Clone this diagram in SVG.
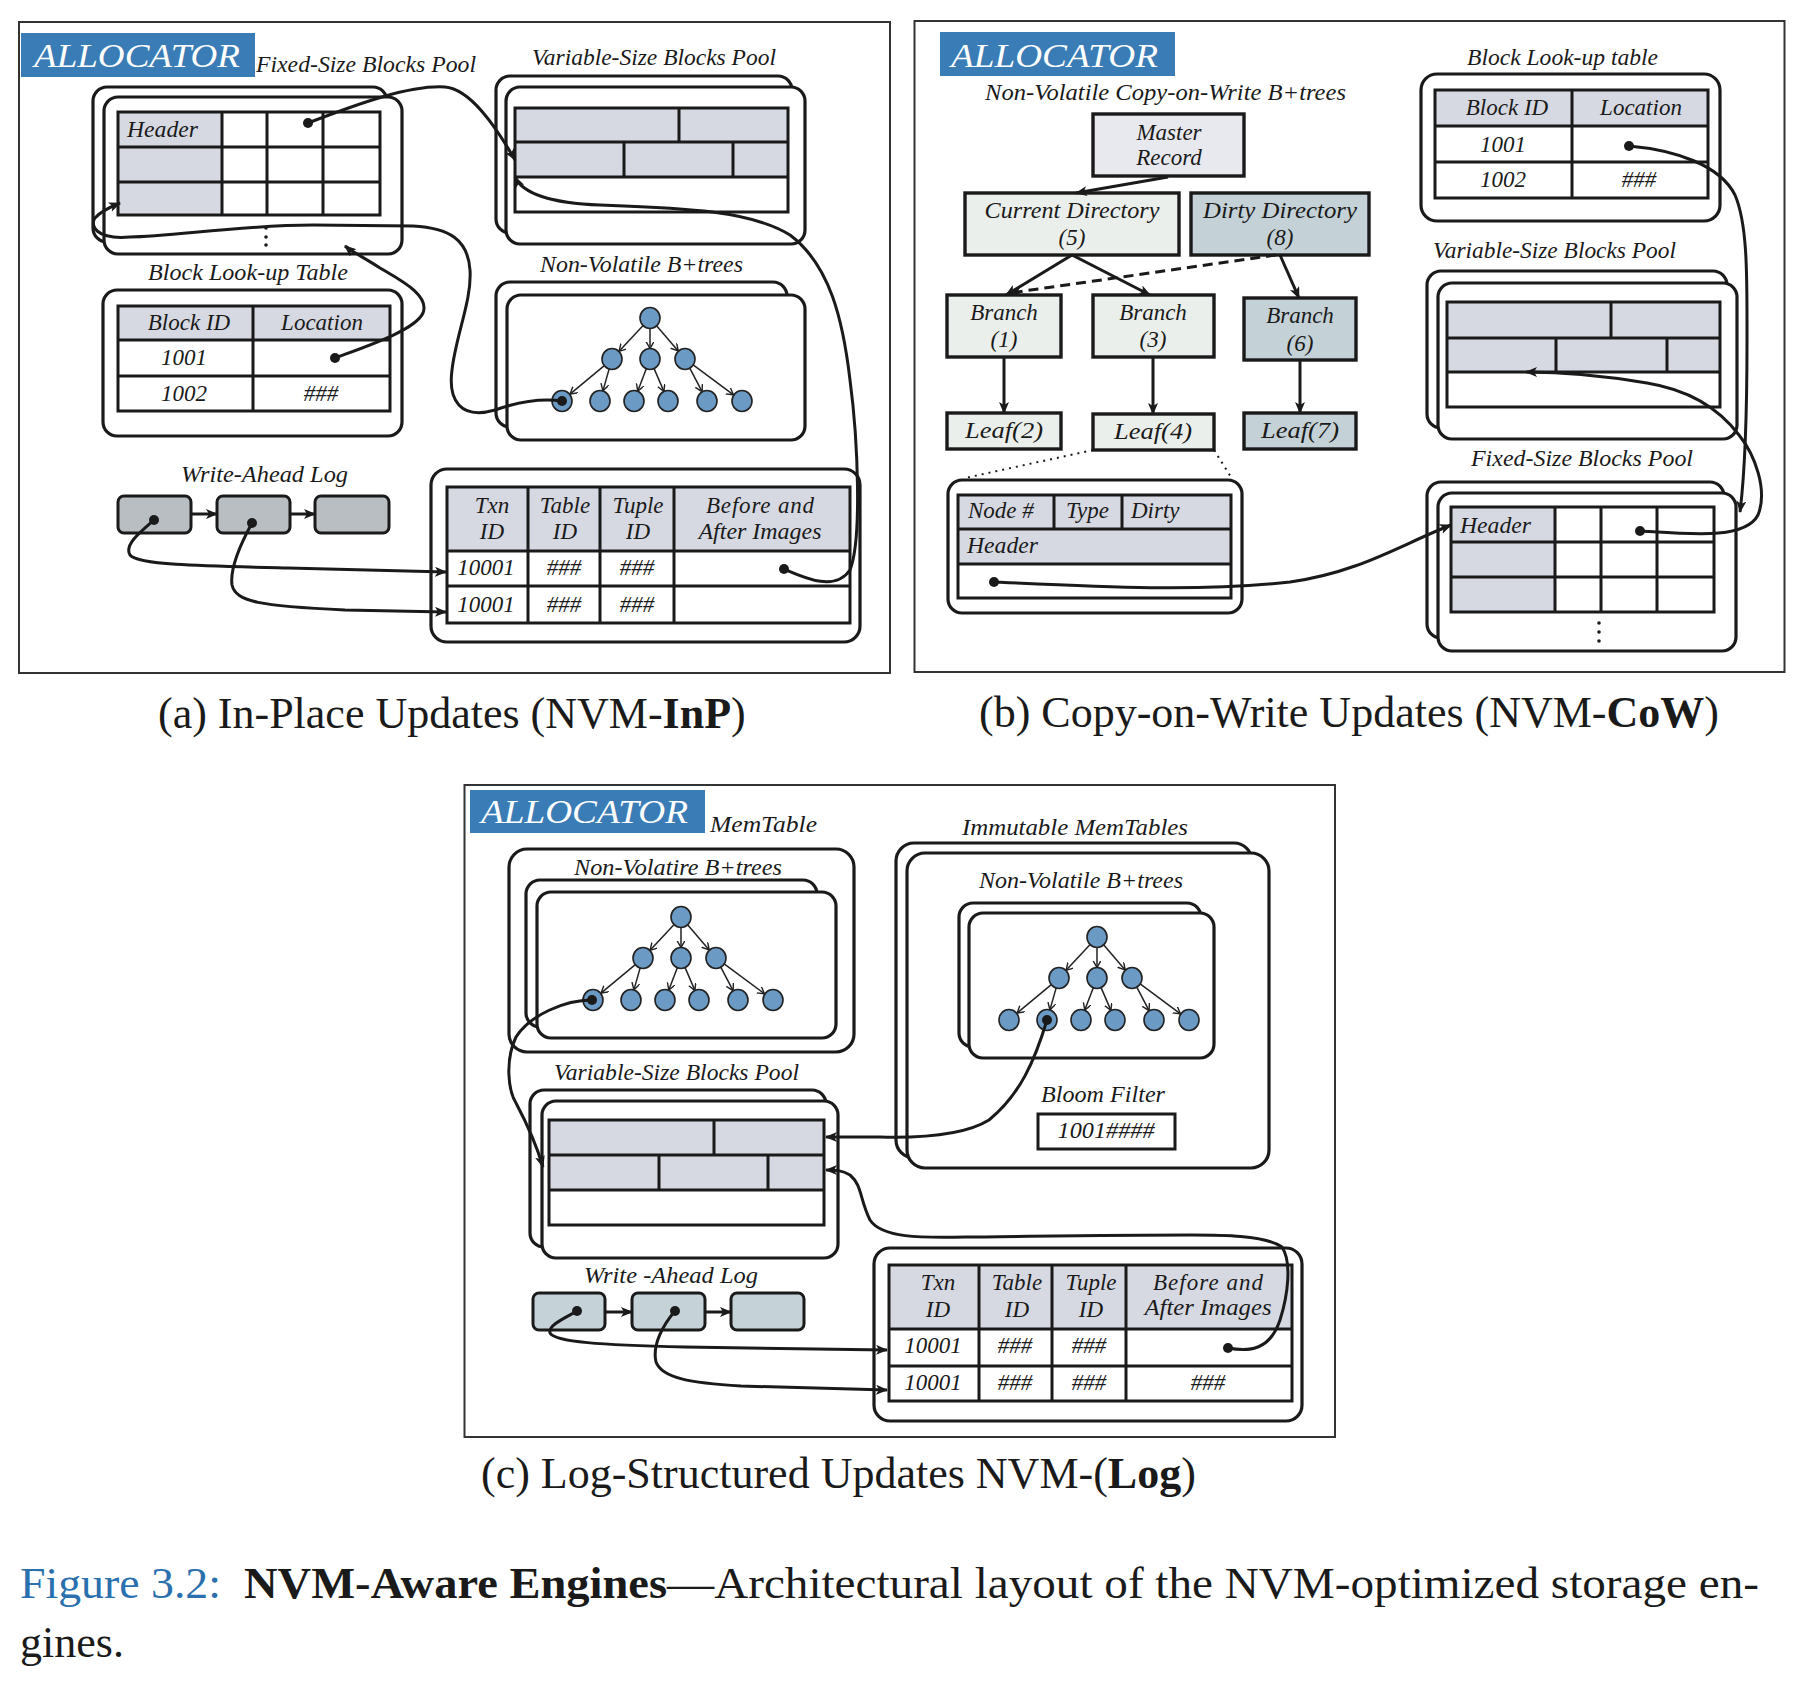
<svg xmlns="http://www.w3.org/2000/svg" width="1799" height="1683" viewBox="0 0 1799 1683">
<defs>
<style>
.frame{fill:#fff;stroke:#333;stroke-width:2}
.rb{fill:#fff;stroke:#1a1a1a;stroke-width:3.2}
.sq{stroke:#1a1a1a;stroke-width:3.4}
.grid{fill:none;stroke:#1a1a1a;stroke-width:3}
.shade{fill:#d6d9e1}
.alloc{fill:#3a7cb5}
.at{font-family:"Liberation Serif","Times New Roman",serif;font-style:italic;font-size:34px;fill:#fff}
.t{font-family:"Liberation Serif","Times New Roman",serif;font-style:italic;font-size:23px;fill:#1a1a1a}
.m{text-anchor:middle}
.cap{font-family:"Liberation Serif","Times New Roman",serif;font-size:44px;fill:#1a1a1a}
.b{font-weight:bold}
.blue{fill:#2a70ae}
.conn{fill:none;stroke:#1a1a1a;stroke-width:3}
.arr{marker-end:url(#ah)}
.dot{marker-start:url(#dt)}
.dash{stroke-dasharray:10 6}
.dotted{fill:none;stroke:#1a1a1a;stroke-width:2;stroke-dasharray:2 5}
.node{fill:#6b9ac4;stroke:#222;stroke-width:1.6}
.te{fill:none;stroke:#222;stroke-width:1.5;marker-end:url(#va)}
.wal-a{fill:#b9bec3;stroke:#1a1a1a;stroke-width:3}
.wal-c{fill:#c5d3d8;stroke:#1a1a1a;stroke-width:3}
.lt{fill:#ebefeb}
.dk{fill:#c4d1d6}
.mr{fill:#e8e9ee}
.vd{fill:#1a1a1a}
</style>
<marker id="ah" markerUnits="userSpaceOnUse" markerWidth="14" markerHeight="12" refX="11" refY="5" orient="auto"><path d="M0,0 L12,5 L0,10 L3,5 z" fill="#1a1a1a"/></marker>
<marker id="dt" markerUnits="userSpaceOnUse" markerWidth="12" markerHeight="12" refX="6" refY="6"><circle cx="6" cy="6" r="5" fill="#1a1a1a"/></marker>
<marker id="va" markerUnits="userSpaceOnUse" markerWidth="10" markerHeight="10" refX="7" refY="4" orient="auto"><path d="M0,0 L7,4 L0,8" fill="none" stroke="#222" stroke-width="1.4"/></marker>
<g id="tree">
<line class="te" x1="-7.1" y1="7.7" x2="-30.9" y2="33.3"/>
<line class="te" x1="0" y1="10.5" x2="0" y2="30.5"/>
<line class="te" x1="6.8" y1="8" x2="28.2" y2="33"/>
<line class="te" x1="-46" y1="47.8" x2="-80" y2="76.2"/>
<line class="te" x1="-40.9" y1="51.1" x2="-47.1" y2="72.9"/>
<line class="te" x1="-3.7" y1="50.8" x2="-12.3" y2="73.2"/>
<line class="te" x1="4.1" y1="50.6" x2="13.9" y2="73.4"/>
<line class="te" x1="39.9" y1="50.3" x2="52.1" y2="73.7"/>
<line class="te" x1="43.5" y1="47.2" x2="83.5" y2="76.8"/>
<ellipse class="node" cx="0" cy="0" rx="10" ry="10.5"/>
<ellipse class="node" cx="-38" cy="41" rx="10" ry="10.5"/>
<ellipse class="node" cx="0" cy="41" rx="10" ry="10.5"/>
<ellipse class="node" cx="35" cy="41" rx="10" ry="10.5"/>
<ellipse class="node" cx="-88" cy="83" rx="10" ry="10.5"/>
<ellipse class="node" cx="-50" cy="83" rx="10" ry="10.5"/>
<ellipse class="node" cx="-16" cy="83" rx="10" ry="10.5"/>
<ellipse class="node" cx="18" cy="83" rx="10" ry="10.5"/>
<ellipse class="node" cx="57" cy="83" rx="10" ry="10.5"/>
<ellipse class="node" cx="92" cy="83" rx="10" ry="10.5"/>
</g>
</defs>
<rect x="0" y="0" width="1799" height="1683" fill="#fff"/>

<!-- ===== Panel (a) ===== -->
<g id="panel-a">
<rect class="frame" x="19" y="22" width="871" height="651"/>
<g id="a-allocator"><rect class="alloc" x="21" y="33" width="234" height="44"/><text class="at" x="34" y="67" textLength="206" lengthAdjust="spacingAndGlyphs">ALLOCATOR</text></g>
<g id="a-fixed-pool">
<text class="t" x="256" y="72" textLength="220" lengthAdjust="spacingAndGlyphs">Fixed-Size Blocks Pool</text>
<rect class="rb" x="93" y="87" width="294" height="155" rx="14"/>
<rect class="rb" x="104" y="97" width="298" height="157" rx="14"/>
<rect class="shade" x="118" y="112" width="104" height="103"/>
<path class="grid" d="M118,112 H380 V215 H118 Z M118,147 H380 M118,182 H380 M222,112 V215 M267,112 V215 M323,112 V215"/>
<text class="t" x="127" y="137" textLength="71" lengthAdjust="spacingAndGlyphs">Header</text>
<circle class="vd" cx="266" cy="228" r="1.8"/><circle class="vd" cx="266" cy="237" r="1.8"/><circle class="vd" cx="266" cy="245" r="1.8"/>
</g>
<g id="a-var-pool">
<text class="t" x="532" y="65" textLength="244" lengthAdjust="spacingAndGlyphs">Variable-Size Blocks Pool</text>
<rect class="rb" x="496" y="76" width="296" height="157" rx="14"/>
<rect class="rb" x="506" y="87" width="299" height="157" rx="14"/>
<rect class="shade" x="515" y="108" width="273" height="69"/>
<path class="grid" d="M515,108 H788 V212 H515 Z M515,142 H788 M515,177 H788 M679,108 V142 M624,142 V177 M733,142 V177"/>
</g>
<g id="a-btrees">
<text class="t" x="540" y="272" textLength="203" lengthAdjust="spacingAndGlyphs">Non-Volatile B+trees</text>
<rect class="rb" x="496" y="282" width="291" height="145" rx="14"/>
<rect class="rb" x="507" y="295" width="298" height="145" rx="14"/>
<use href="#tree" transform="translate(650,318)"/>
</g>
<g id="a-lookup">
<text class="t" x="148" y="280" textLength="200" lengthAdjust="spacingAndGlyphs">Block Look-up Table</text>
<rect class="rb" x="103" y="290" width="299" height="146" rx="14"/>
<rect class="shade" x="118" y="306" width="272" height="34"/>
<path class="grid" d="M118,306 H390 V411 H118 Z M118,340 H390 M118,376 H390 M253,306 V411"/>
<text class="t m" x="189" y="330">Block ID</text>
<text class="t m" x="322" y="330">Location</text>
<text class="t m" x="184" y="365">1001</text>
<text class="t m" x="184" y="401">1002</text>
<text class="t m" x="321" y="401">###</text>
</g>
<g id="a-wal">
<text class="t" x="181" y="482" textLength="167" lengthAdjust="spacingAndGlyphs">Write-Ahead Log</text>
<rect class="wal-a" x="118" y="496" width="73" height="37" rx="6"/>
<rect class="wal-a" x="217" y="496" width="73" height="37" rx="6"/>
<rect class="wal-a" x="315" y="496" width="74" height="37" rx="6"/>
</g>
<g id="a-wal-table">
<rect class="rb" x="431" y="469" width="429" height="173" rx="16"/>
<rect class="shade" x="447" y="487" width="403" height="64"/>
<path class="grid" d="M447,487 H850 V623 H447 Z M447,551 H850 M447,586 H850 M528,487 V623 M600,487 V623 M674,487 V623"/>
<text class="t m" x="492" y="513">Txn</text><text class="t m" x="492" y="539">ID</text>
<text class="t m" x="565" y="513">Table</text><text class="t m" x="565" y="539">ID</text>
<text class="t m" x="638" y="513">Tuple</text><text class="t m" x="638" y="539">ID</text>
<text class="t m" x="760" y="513" textLength="108" lengthAdjust="spacing">Before and</text>
<text class="t m" x="760" y="539" textLength="123" lengthAdjust="spacingAndGlyphs">After Images</text>
<text class="t m" x="486" y="575">10001</text><text class="t m" x="564" y="575">###</text><text class="t m" x="637" y="575">###</text>
<text class="t m" x="486" y="612">10001</text><text class="t m" x="564" y="612">###</text><text class="t m" x="637" y="612">###</text>
</g>
<text class="cap" x="158" y="728">(a) In-Place Updates (NVM-<tspan class="b">InP</tspan>)</text>
</g>

<!-- ===== Panel (b) ===== -->
<g id="panel-b">
<rect class="frame" x="914.5" y="21" width="870" height="651"/>
<g id="b-allocator"><rect class="alloc" x="940" y="32" width="235" height="44"/><text class="at" x="951" y="67" textLength="207" lengthAdjust="spacingAndGlyphs">ALLOCATOR</text></g>
<text class="t" x="985" y="100" textLength="361" lengthAdjust="spacingAndGlyphs">Non-Volatile Copy-on-Write B+trees</text>
<g id="b-master"><rect class="mr sq" x="1093" y="114" width="151" height="62"/><text class="t m" x="1169" y="140">Master</text><text class="t m" x="1169" y="165">Record</text></g>
<g id="b-current"><rect class="lt sq" x="965" y="193" width="214" height="62"/><text class="t m" x="1072" y="218" textLength="175" lengthAdjust="spacingAndGlyphs">Current Directory</text><text class="t m" x="1072" y="245">(5)</text></g>
<g id="b-dirty"><rect class="dk sq" x="1191" y="193" width="178" height="62"/><text class="t m" x="1280" y="218" textLength="154" lengthAdjust="spacingAndGlyphs">Dirty Directory</text><text class="t m" x="1280" y="245">(8)</text></g>
<g id="b-branch1"><rect class="lt sq" x="947" y="295" width="114" height="62"/><text class="t m" x="1004" y="320">Branch</text><text class="t m" x="1004" y="347">(1)</text></g>
<g id="b-branch3"><rect class="lt sq" x="1093" y="295" width="121" height="62"/><text class="t m" x="1153" y="320">Branch</text><text class="t m" x="1153" y="347">(3)</text></g>
<g id="b-branch6"><rect class="dk sq" x="1244" y="298" width="112" height="62"/><text class="t m" x="1300" y="323">Branch</text><text class="t m" x="1300" y="351">(6)</text></g>
<g id="b-leaf2"><rect class="lt sq" x="947" y="413" width="114" height="36"/><text class="t m" x="1004" y="438" textLength="78" lengthAdjust="spacingAndGlyphs">Leaf(2)</text></g>
<g id="b-leaf4"><rect class="lt sq" x="1093" y="414" width="121" height="36"/><text class="t m" x="1153" y="439" textLength="78" lengthAdjust="spacingAndGlyphs">Leaf(4)</text></g>
<g id="b-leaf7"><rect class="dk sq" x="1244" y="413" width="112" height="36"/><text class="t m" x="1300" y="438" textLength="78" lengthAdjust="spacingAndGlyphs">Leaf(7)</text></g>
<g id="b-node">
<rect class="rb" x="948" y="480" width="294" height="133" rx="14"/>
<rect class="shade" x="958" y="495" width="273" height="69"/>
<path class="grid" d="M958,495 H1231 V598 H958 Z M958,529 H1231 M958,564 H1231 M1054,495 V529 M1122,495 V529"/>
<text class="t" x="968" y="518">Node #</text>
<text class="t" x="1066" y="518">Type</text>
<text class="t" x="1131" y="518">Dirty</text>
<text class="t" x="967" y="553" textLength="71" lengthAdjust="spacingAndGlyphs">Header</text>
</g>
<g id="b-lookup">
<text class="t" x="1467" y="65" textLength="191" lengthAdjust="spacingAndGlyphs">Block Look-up table</text>
<rect class="rb" x="1421" y="74" width="299" height="147" rx="16"/>
<rect class="shade" x="1435" y="90" width="273" height="36"/>
<path class="grid" d="M1435,90 H1708 V198 H1435 Z M1435,126 H1708 M1435,162 H1708 M1572,90 V198"/>
<text class="t m" x="1507" y="115">Block ID</text>
<text class="t m" x="1641" y="115">Location</text>
<text class="t m" x="1503" y="152">1001</text>
<text class="t m" x="1503" y="187">1002</text>
<text class="t m" x="1639" y="187">###</text>
</g>
<g id="b-var-pool">
<text class="t" x="1433" y="258" textLength="243" lengthAdjust="spacingAndGlyphs">Variable-Size Blocks Pool</text>
<rect class="rb" x="1427" y="271" width="300" height="157" rx="14"/>
<rect class="rb" x="1438" y="283" width="299" height="156" rx="14"/>
<rect class="shade" x="1447" y="302" width="273" height="70"/>
<path class="grid" d="M1447,302 H1720 V407 H1447 Z M1447,338 H1720 M1447,372 H1720 M1611,302 V338 M1556,338 V372 M1667,338 V372"/>
</g>
<g id="b-fixed-pool">
<text class="t" x="1471" y="466" textLength="222" lengthAdjust="spacingAndGlyphs">Fixed-Size Blocks Pool</text>
<rect class="rb" x="1427" y="482" width="297" height="156" rx="14"/>
<rect class="rb" x="1438" y="493" width="298" height="158" rx="14"/>
<rect class="shade" x="1451" y="507" width="104" height="105"/>
<path class="grid" d="M1451,507 H1714 V612 H1451 Z M1451,542 H1714 M1451,577 H1714 M1555,507 V612 M1601,507 V612 M1657,507 V612"/>
<text class="t" x="1460" y="533" textLength="71" lengthAdjust="spacingAndGlyphs">Header</text>
<circle class="vd" cx="1599" cy="623" r="1.8"/><circle class="vd" cx="1599" cy="632" r="1.8"/><circle class="vd" cx="1599" cy="641" r="1.8"/>
</g>
<text class="cap" x="979" y="727">(b) Copy-on-Write Updates (NVM-<tspan class="b">CoW</tspan>)</text>
</g>

<!-- ===== Panel (c) ===== -->
<g id="panel-c">
<rect class="frame" x="464.5" y="785" width="870.5" height="652"/>
<g id="c-allocator"><rect class="alloc" x="470" y="790" width="235" height="43"/><text class="at" x="481" y="823" textLength="207" lengthAdjust="spacingAndGlyphs">ALLOCATOR</text></g>
<g id="c-memtable">
<text class="t" x="710" y="832" textLength="107" lengthAdjust="spacingAndGlyphs">MemTable</text>
<rect class="rb" x="509" y="849" width="345" height="203" rx="18"/>
<text class="t" x="574" y="875" textLength="208" lengthAdjust="spacingAndGlyphs">Non-Volatire B+trees</text>
<rect class="rb" x="526" y="880" width="291" height="147" rx="14"/>
<rect class="rb" x="537" y="892" width="299" height="146" rx="14"/>
<use href="#tree" transform="translate(681,917)"/>
</g>
<g id="c-immutable">
<text class="t" x="962" y="835" textLength="226" lengthAdjust="spacingAndGlyphs">Immutable MemTables</text>
<rect class="rb" x="896" y="843" width="356" height="315" rx="18"/>
<rect class="rb" x="907" y="853" width="362" height="315" rx="18"/>
<text class="t" x="979" y="888" textLength="204" lengthAdjust="spacingAndGlyphs">Non-Volatile B+trees</text>
<rect class="rb" x="959" y="903" width="242" height="144" rx="14"/>
<rect class="rb" x="969" y="913" width="245" height="145" rx="14"/>
<use href="#tree" transform="translate(1097,937)"/>
<text class="t" x="1041" y="1102" textLength="124" lengthAdjust="spacingAndGlyphs">Bloom Filter</text>
<rect x="1038" y="1114" width="137" height="35" fill="#fff" stroke="#1a1a1a" stroke-width="3"/>
<text class="t m" x="1106" y="1138" textLength="97" lengthAdjust="spacingAndGlyphs">1001####</text>
</g>
<g id="c-var-pool">
<text class="t" x="554" y="1080" textLength="245" lengthAdjust="spacingAndGlyphs">Variable-Size Blocks Pool</text>
<rect class="rb" x="530" y="1090" width="296" height="157" rx="14"/>
<rect class="rb" x="542" y="1101" width="296" height="157" rx="14"/>
<rect class="shade" x="549" y="1120" width="275" height="70"/>
<path class="grid" d="M549,1120 H824 V1225 H549 Z M549,1155 H824 M549,1190 H824 M714,1120 V1155 M659,1155 V1190 M768,1155 V1190"/>
</g>
<g id="c-wal">
<text class="t" x="584" y="1283" textLength="174" lengthAdjust="spacingAndGlyphs">Write -Ahead Log</text>
<rect class="wal-c" x="533" y="1293" width="72" height="37" rx="6"/>
<rect class="wal-c" x="632" y="1293" width="73" height="37" rx="6"/>
<rect class="wal-c" x="731" y="1293" width="73" height="37" rx="6"/>
</g>
<g id="c-wal-table">
<rect class="rb" x="874" y="1248" width="428" height="173" rx="16"/>
<rect class="shade" x="889" y="1265" width="403" height="64"/>
<path class="grid" d="M889,1265 H1292 V1401 H889 Z M889,1329 H1292 M889,1366 H1292 M979,1265 V1401 M1052,1265 V1401 M1126,1265 V1401"/>
<text class="t m" x="938" y="1290">Txn</text><text class="t m" x="938" y="1317">ID</text>
<text class="t m" x="1017" y="1290">Table</text><text class="t m" x="1017" y="1317">ID</text>
<text class="t m" x="1091" y="1290">Tuple</text><text class="t m" x="1091" y="1317">ID</text>
<text class="t m" x="1208" y="1290" textLength="110" lengthAdjust="spacing">Before and</text>
<text class="t m" x="1208" y="1315" textLength="127" lengthAdjust="spacingAndGlyphs">After Images</text>
<text class="t m" x="933" y="1353">10001</text><text class="t m" x="1015" y="1353">###</text><text class="t m" x="1089" y="1353">###</text>
<text class="t m" x="933" y="1390">10001</text><text class="t m" x="1015" y="1390">###</text><text class="t m" x="1089" y="1390">###</text>
<text class="t m" x="1208" y="1390">###</text>
</g>
<text class="cap" x="481" y="1488">(c) Log-Structured Updates NVM-(<tspan class="b">Log</tspan>)</text>
</g>

<!-- ===== Figure caption ===== -->
<g id="figure-caption">
<text class="cap blue" x="20" y="1598" textLength="201" lengthAdjust="spacingAndGlyphs">Figure 3.2:</text>
<text class="cap b" x="244" y="1598" textLength="423" lengthAdjust="spacingAndGlyphs">NVM-Aware Engines</text>
<text class="cap" x="667" y="1598" textLength="1092" lengthAdjust="spacingAndGlyphs">—Architectural layout of the NVM-optimized storage en-</text>
<text class="cap" x="20" y="1657">gines.</text>
</g>

<!-- ===== Connectors ===== -->
<g id="connectors">
<!-- panel a -->
<path class="conn dot arr" d="M308,123 C 360,103 410,85 445,87 C 470,89 495,125 515,160"/>
<path class="conn dot arr" d="M784,569 C 805,578 835,592 850,570 C 862,540 858,440 850,380 C 843,320 830,265 790,235 C 750,210 680,208 600,205 C 545,203 522,192 515,177"/>
<path class="conn dot arr" d="M562,401 C 540,398 515,403 495,410 C 460,420 448,400 452,370 C 456,335 472,300 470,270 C 468,240 450,228 413,226 L 313,225 C 240,225 170,237 130,237 C 95,240 90,225 95,218 C 100,212 110,207 120,203"/>
<path class="conn dot arr" d="M335,358 C 370,345 415,330 423,313 C 430,295 400,280 380,268 C 365,258 352,252 345,246"/>
<path class="conn dot arr" d="M154,520 C 140,532 124,545 130,555 C 138,565 200,566 288,568 C 350,570 400,571 446,572"/>
<path class="conn dot arr" d="M252,523 C 240,545 230,570 232,585 C 236,602 260,606 345,610 L 446,612"/>
<path class="conn arr" d="M191,514 L 217,514"/>
<path class="conn arr" d="M290,514 L 315,514"/>
<!-- panel b -->
<path class="conn arr" d="M1168,177 L 1076,193"/>
<path class="conn arr" d="M1072,255 L 1006,295"/>
<path class="conn arr" d="M1072,255 L 1150,295"/>
<path class="conn dash arr" d="M1276,255 L 1010,293"/>
<path class="conn arr" d="M1280,255 L 1299,298"/>
<path class="conn arr" d="M1004,357 L 1004,413"/>
<path class="conn arr" d="M1153,357 L 1153,414"/>
<path class="conn arr" d="M1300,360 L 1300,413"/>
<path class="dotted" d="M1093,450 L 965,478"/>
<path class="dotted" d="M1214,450 L 1231,477"/>
<path class="conn dot arr" d="M994,582 C 1100,587 1200,592 1290,582 C 1360,572 1400,545 1451,525"/>
<path class="conn dot arr" d="M1640,531 C 1690,534 1745,540 1758,515 C 1768,490 1755,455 1739,435 C 1720,410 1690,390 1647,383 C 1600,375 1560,372 1526,372"/>
<path class="conn dot arr" d="M1629,146 C 1675,150 1720,165 1735,195 C 1748,225 1747,280 1747,340 C 1747,420 1744,480 1740,512"/>
<!-- panel c -->
<path class="conn dot arr" d="M592,1000 C 565,1000 530,1015 516,1037 C 505,1060 508,1090 516,1103 C 525,1120 535,1140 543,1167"/>
<path class="conn dot arr" d="M1047,1020 C 1035,1060 1020,1095 989,1120 C 965,1135 920,1138 880,1137 L 826,1137"/>
<path class="conn dot arr" d="M1228,1348 C 1250,1352 1270,1350 1280,1320 C 1288,1295 1292,1262 1282,1247 C 1265,1235 1220,1235 1191,1235 C 1100,1235 1000,1237 966,1237 C 920,1238 882,1238 870,1220 C 860,1200 862,1185 850,1175 C 842,1170 835,1170 826,1170"/>
<path class="conn dot arr" d="M577,1311 C 565,1318 548,1325 550,1333 C 555,1342 600,1345 685,1347 L 887,1350"/>
<path class="conn dot arr" d="M675,1311 C 663,1325 652,1345 656,1362 C 662,1378 690,1383 741,1386 L 887,1390"/>
<path class="conn arr" d="M605,1312 L 632,1312"/>
<path class="conn arr" d="M705,1312 L 731,1312"/>
</g>
</svg>
